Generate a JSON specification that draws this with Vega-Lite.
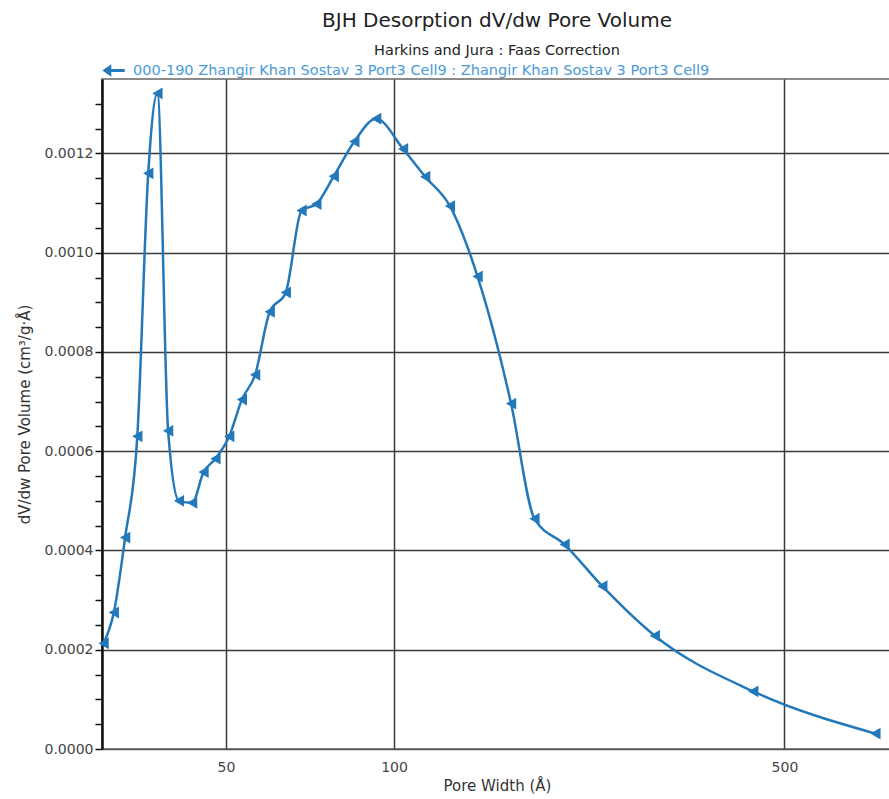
{
  "$schema": "https://vega.github.io/schema/vega-lite/v6.json",
  "autosize": {"type": "none"},
  "padding": {"left": 102, "top": 79, "right": 0, "bottom": 50},
  "width": 790,
  "height": 670,
  "background": "white",
  "title": {
    "text": "BJH Desorption dV/dw Pore Volume",
    "subtitle": "Harkins and Jura : Faas Correction",
    "anchor": "middle",
    "frame": "group",
    "font": "DejaVu Sans",
    "fontSize": 20,
    "fontWeight": "normal",
    "color": "#222222",
    "subtitleFont": "DejaVu Sans",
    "subtitleFontSize": 14.5,
    "subtitleColor": "#222222",
    "subtitlePadding": 13,
    "offset": 2
  },
  "data": {
    "values": [
      {"w": 30.2, "v": 0.000213, "s": "000-190 Zhangir Khan Sostav 3 Port3 Cell9 : Zhangir Khan Sostav 3 Port3 Cell9"},
      {"w": 31.5, "v": 0.000275, "s": "000-190 Zhangir Khan Sostav 3 Port3 Cell9 : Zhangir Khan Sostav 3 Port3 Cell9"},
      {"w": 33.0, "v": 0.000426, "s": "000-190 Zhangir Khan Sostav 3 Port3 Cell9 : Zhangir Khan Sostav 3 Port3 Cell9"},
      {"w": 34.7, "v": 0.000630, "s": "000-190 Zhangir Khan Sostav 3 Port3 Cell9 : Zhangir Khan Sostav 3 Port3 Cell9"},
      {"w": 36.3, "v": 0.001160, "s": "000-190 Zhangir Khan Sostav 3 Port3 Cell9 : Zhangir Khan Sostav 3 Port3 Cell9"},
      {"w": 37.7, "v": 0.001321, "s": "000-190 Zhangir Khan Sostav 3 Port3 Cell9 : Zhangir Khan Sostav 3 Port3 Cell9"},
      {"w": 39.4, "v": 0.000641, "s": "000-190 Zhangir Khan Sostav 3 Port3 Cell9 : Zhangir Khan Sostav 3 Port3 Cell9"},
      {"w": 41.2, "v": 0.000500, "s": "000-190 Zhangir Khan Sostav 3 Port3 Cell9 : Zhangir Khan Sostav 3 Port3 Cell9"},
      {"w": 43.5, "v": 0.000496, "s": "000-190 Zhangir Khan Sostav 3 Port3 Cell9 : Zhangir Khan Sostav 3 Port3 Cell9"},
      {"w": 45.6, "v": 0.000558, "s": "000-190 Zhangir Khan Sostav 3 Port3 Cell9 : Zhangir Khan Sostav 3 Port3 Cell9"},
      {"w": 47.9, "v": 0.000585, "s": "000-190 Zhangir Khan Sostav 3 Port3 Cell9 : Zhangir Khan Sostav 3 Port3 Cell9"},
      {"w": 50.7, "v": 0.000630, "s": "000-190 Zhangir Khan Sostav 3 Port3 Cell9 : Zhangir Khan Sostav 3 Port3 Cell9"},
      {"w": 53.4, "v": 0.000704, "s": "000-190 Zhangir Khan Sostav 3 Port3 Cell9 : Zhangir Khan Sostav 3 Port3 Cell9"},
      {"w": 56.4, "v": 0.000754, "s": "000-190 Zhangir Khan Sostav 3 Port3 Cell9 : Zhangir Khan Sostav 3 Port3 Cell9"},
      {"w": 59.9, "v": 0.000881, "s": "000-190 Zhangir Khan Sostav 3 Port3 Cell9 : Zhangir Khan Sostav 3 Port3 Cell9"},
      {"w": 64.0, "v": 0.000920, "s": "000-190 Zhangir Khan Sostav 3 Port3 Cell9 : Zhangir Khan Sostav 3 Port3 Cell9"},
      {"w": 68.3, "v": 0.001085, "s": "000-190 Zhangir Khan Sostav 3 Port3 Cell9 : Zhangir Khan Sostav 3 Port3 Cell9"},
      {"w": 72.6, "v": 0.001098, "s": "000-190 Zhangir Khan Sostav 3 Port3 Cell9 : Zhangir Khan Sostav 3 Port3 Cell9"},
      {"w": 78.0, "v": 0.001154, "s": "000-190 Zhangir Khan Sostav 3 Port3 Cell9 : Zhangir Khan Sostav 3 Port3 Cell9"},
      {"w": 84.9, "v": 0.001224, "s": "000-190 Zhangir Khan Sostav 3 Port3 Cell9 : Zhangir Khan Sostav 3 Port3 Cell9"},
      {"w": 92.9, "v": 0.001270, "s": "000-190 Zhangir Khan Sostav 3 Port3 Cell9 : Zhangir Khan Sostav 3 Port3 Cell9"},
      {"w": 103.8, "v": 0.001209, "s": "000-190 Zhangir Khan Sostav 3 Port3 Cell9 : Zhangir Khan Sostav 3 Port3 Cell9"},
      {"w": 113.7, "v": 0.001153, "s": "000-190 Zhangir Khan Sostav 3 Port3 Cell9 : Zhangir Khan Sostav 3 Port3 Cell9"},
      {"w": 125.9, "v": 0.001094, "s": "000-190 Zhangir Khan Sostav 3 Port3 Cell9 : Zhangir Khan Sostav 3 Port3 Cell9"},
      {"w": 141.1, "v": 0.000952, "s": "000-190 Zhangir Khan Sostav 3 Port3 Cell9 : Zhangir Khan Sostav 3 Port3 Cell9"},
      {"w": 162.0, "v": 0.000696, "s": "000-190 Zhangir Khan Sostav 3 Port3 Cell9 : Zhangir Khan Sostav 3 Port3 Cell9"},
      {"w": 178.4, "v": 0.000464, "s": "000-190 Zhangir Khan Sostav 3 Port3 Cell9 : Zhangir Khan Sostav 3 Port3 Cell9"},
      {"w": 202.0, "v": 0.000412, "s": "000-190 Zhangir Khan Sostav 3 Port3 Cell9 : Zhangir Khan Sostav 3 Port3 Cell9"},
      {"w": 236.0, "v": 0.000328, "s": "000-190 Zhangir Khan Sostav 3 Port3 Cell9 : Zhangir Khan Sostav 3 Port3 Cell9"},
      {"w": 293.0, "v": 0.000228, "s": "000-190 Zhangir Khan Sostav 3 Port3 Cell9 : Zhangir Khan Sostav 3 Port3 Cell9"},
      {"w": 439.8, "v": 0.000116, "s": "000-190 Zhangir Khan Sostav 3 Port3 Cell9 : Zhangir Khan Sostav 3 Port3 Cell9"},
      {"w": 727.5, "v": 0.000031, "s": "000-190 Zhangir Khan Sostav 3 Port3 Cell9 : Zhangir Khan Sostav 3 Port3 Cell9"}
    ]
  },
  "encoding": {
    "x": {
      "field": "w",
      "type": "quantitative",
      "scale": {"type": "log", "domain": [30, 779], "nice": false},
      "axis": {
        "title": "Pore Width (Å)",
        "values": [50, 100, 500],
        "format": "d",
        "grid": true,
        "gridColor": "#3a3a3a",
        "gridWidth": 1.5,
        "ticks": false,
        "domainColor": "#555555",
        "domainWidth": 1.5,
        "labelFont": "DejaVu Sans",
        "labelFontSize": 14,
        "labelColor": "#444444",
        "labelPadding": 11,
        "titleFont": "DejaVu Sans",
        "titleFontSize": 15,
        "titleFontWeight": "normal",
        "titleColor": "#333333",
        "titlePadding": 4
      }
    },
    "y": {
      "field": "v",
      "type": "quantitative",
      "scale": {"domain": [0, 0.00135], "nice": false},
      "axis": {
        "title": "dV/dw Pore Volume (cm³/g·Å)",
        "values": [0, 0.00005, 0.0001, 0.00015, 0.0002, 0.00025, 0.0003, 0.00035, 0.0004, 0.00045, 0.0005, 0.00055, 0.0006, 0.00065, 0.0007, 0.00075, 0.0008, 0.00085, 0.0009, 0.00095, 0.001, 0.00105, 0.0011, 0.00115, 0.0012, 0.00125, 0.0013],
        "labelExpr": "round(datum.value*100000) % 20 == 0 ? format(datum.value, '.4f') : ''",
        "grid": true,
        "gridColor": "#3a3a3a",
        "gridWidth": 1.5,
        "gridOpacity": {"condition": {"test": "round(datum.value*100000) % 20 == 0 && datum.value > 0", "value": 1}, "value": 0},
        "tickColor": "#111111",
        "tickSize": 7,
        "tickWidth": 1.5,
        "domainColor": "#111111",
        "domainWidth": 2.5,
        "labelFont": "DejaVu Sans",
        "labelFontSize": 14,
        "labelColor": "#444444",
        "labelPadding": 2,
        "titleFont": "DejaVu Sans",
        "titleFontSize": 15,
        "titleFontWeight": "normal",
        "titleColor": "#333333",
        "titlePadding": 12
      }
    },
    "color": {
      "field": "s",
      "type": "nominal",
      "scale": {"range": ["#2378ba"]},
      "legend": {
        "title": null,
        "orient": "none",
        "legendX": 0,
        "legendY": -20,
        "symbolType": "M-1,0L-0.2,-0.55L-0.2,-0.14L1,-0.14L1,0.14L-0.2,0.14L-0.2,0.55Z",
        "symbolSize": 500,
        "symbolFillColor": "#2378ba",
        "symbolStrokeColor": "#2378ba",
        "symbolStrokeWidth": 0,
        "labelFont": "DejaVu Sans",
        "labelFontSize": 14.5,
        "labelColor": "#4a9ad8",
        "labelLimit": 800,
        "labelOffset": 8
      }
    }
  },
  "layer": [
    {
      "mark": {"type": "line", "interpolate": "monotone", "strokeWidth": 2.5, "clip": true}
    },
    {
      "mark": {"type": "point", "shape": "triangle-left", "filled": true, "opacity": 1, "size": 140, "clip": false}
    }
  ],
  "config": {
    "view": {"stroke": "#666666", "strokeWidth": 1.5}
  }
}
